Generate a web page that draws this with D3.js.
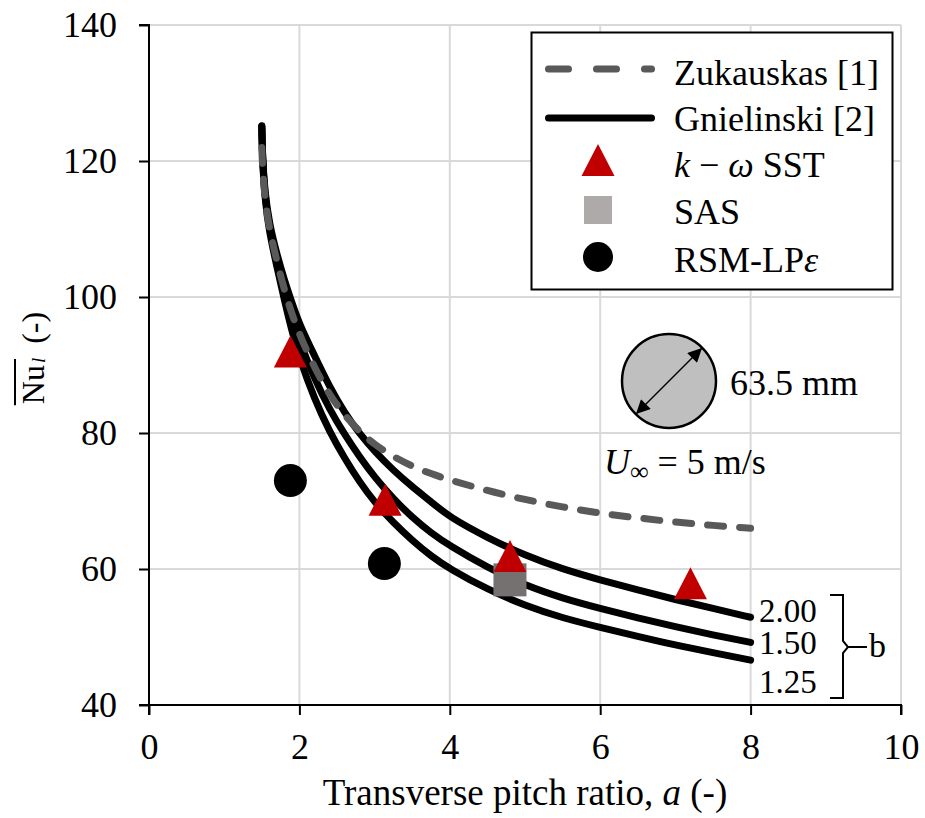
<!DOCTYPE html>
<html><head><meta charset="utf-8">
<script src="https://cdn.jsdelivr.net/npm/d3@7"></script>
<style>
html,body{margin:0;padding:0;background:#fff;}
svg{display:block;}
text{font-family:"Liberation Serif","Times New Roman",serif;fill:#000;}
</style></head>
<body>
<svg id="chart" width="925" height="818"></svg>
<script>
// ---------- data ----------
const xTicks = [0, 2, 4, 6, 8, 10];
const yTicks = [40, 60, 80, 100, 120, 140];
const curveX =        [1.5, 1.51, 1.54, 1.6, 1.7, 1.8, 1.9, 2.0, 2.2, 2.4, 2.6, 2.8, 3.0, 3.25, 3.5, 3.75, 4.0, 4.5, 5.0, 5.5, 6.0, 6.5, 7.0, 7.5, 8.0];
const zukauskas =     [122.0, 119.0, 114.5, 110.0, 105.3, 101.0, 97.5, 94.5, 89.6, 85.6, 82.6, 80.2, 78.3, 76.5, 75.1, 74.0, 73.1, 71.5, 70.2, 69.1, 68.2, 67.5, 66.9, 66.4, 66.0];
const gnielinski200 = [125.2, 120.5, 115.5, 110.8, 106.3, 102.5, 99.2, 96.0, 91.4, 86.8, 83.0, 79.9, 77.3, 74.5, 72.1, 69.9, 67.6, 64.6, 62.0, 60.0, 58.4, 56.9, 55.5, 54.2, 52.9];
const gnielinski150 = [125.1, 120.2, 115.0, 110.2, 105.5, 101.0, 97.0, 93.5, 88.0, 83.5, 79.8, 76.5, 73.5, 70.3, 67.6, 65.3, 63.4, 60.2, 57.6, 55.7, 54.2, 52.8, 51.5, 50.3, 49.2];
const gnielinski125 = [125.0, 120.0, 114.5, 109.5, 104.5, 99.5, 95.0, 91.0, 85.0, 80.2, 76.3, 72.8, 69.8, 66.8, 64.2, 61.9, 60.0, 57.0, 54.6, 52.8, 51.4, 50.1, 48.8, 47.7, 46.6];
const bLabels = ["2.00", "1.50", "1.25"];
const sstX = [1.88, 3.14, 4.8, 7.2];
const sstY = [92.0, 70.2, 61.9, 57.9];
const sasX = [4.8];
const sasY = [58.4];
const rsmX = [1.88, 3.13];
const rsmY = [73.0, 60.8];
const legendNames = ["Zukauskas [1]", "Gnielinski [2]", "k − ω SST", "SAS", "RSM-LPε"];

// ---------- layout ----------
const svg = d3.select("#chart");
const x = d3.scaleLinear().domain([0, 10]).range([149, 901]);
const y = d3.scaleLinear().domain([40, 140]).range([705, 25]);
const FS = 36;

// grid
svg.append("g").selectAll("line").data(xTicks.filter(d => d > 0)).join("line")
  .attr("x1", d => x(d)).attr("x2", d => x(d)).attr("y1", y(40)).attr("y2", y(140))
  .attr("stroke", "#d9d9d9").attr("stroke-width", 2);
svg.append("g").selectAll("line").data(yTicks.filter(d => d > 40)).join("line")
  .attr("x1", x(0)).attr("x2", x(10)).attr("y1", d => y(d)).attr("y2", d => y(d))
  .attr("stroke", "#d9d9d9").attr("stroke-width", 2);

// axes
const xAxis = d3.axisBottom(x).tickValues(xTicks).tickSize(10).tickPadding(18).tickFormat(d3.format("d"));
const yAxis = d3.axisLeft(y).tickValues(yTicks).tickSize(10).tickPadding(22).tickFormat(d3.format("d"));
const gx = svg.append("g").attr("transform", `translate(0,${y(40)})`).call(xAxis);
const gy = svg.append("g").attr("transform", `translate(${x(0)},0)`).call(yAxis);
[gx, gy].forEach(g => {
  g.select(".domain").attr("stroke", "#000").attr("stroke-width", 2);
  g.selectAll(".tick line").attr("stroke", "#000").attr("stroke-width", 2);
  g.selectAll(".tick text").attr("font-size", FS).attr("fill", "#000")
    .attr("font-family", '"Liberation Serif","Times New Roman",serif');
});
gx.select(".domain").attr("d", `M${x(0)},10V0H${x(10)}V10`);
gy.select(".domain").attr("d", `M-10,${y(140)}H0V${y(40)}H-10`);

// curves
const line = d3.line().x(d => x(d[0])).y(d => y(d[1])).curve(d3.curveBasis);
const gCurves = svg.append("g");
[gnielinski200, gnielinski150, gnielinski125].forEach(arr => {
  gCurves.append("path").attr("d", line(curveX.map((v, i) => [v, arr[i]])))
    .attr("fill", "none").attr("stroke", "#000").attr("stroke-width", 7)
    .attr("stroke-linecap", "round").attr("stroke-linejoin", "round");
});
gCurves.append("path").attr("d", line(curveX.map((v, i) => [v, zukauskas[i]])))
  .attr("fill", "none").attr("stroke", "#595959").attr("stroke-width", 7)
  .attr("stroke-dasharray", "16 16").attr("stroke-linecap", "round");

// markers
const tri = "M0,-16L16.5,16L-16.5,16Z";
svg.append("g").selectAll("circle").data(rsmX).join("circle")
  .attr("cx", d => x(d)).attr("cy", (d, i) => y(rsmY[i])).attr("r", 16.5).attr("fill", "#000");
svg.append("g").selectAll("rect").data(sasX).join("rect")
  .attr("x", d => x(d) - 16.5).attr("y", (d, i) => y(sasY[i]) - 16.5)
  .attr("width", 33).attr("height", 33).attr("fill", "#767171");
svg.append("g").selectAll("path").data(sstX).join("path")
  .attr("d", tri).attr("transform", (d, i) => `translate(${x(d)},${y(sstY[i])})`).attr("fill", "#c00000");

// b labels and bracket
const labelBaselines = [621.5, 653.5, 693];
svg.append("g").selectAll("text").data(bLabels).join("text")
  .attr("x", 759).attr("y", (d, i) => labelBaselines[i]).attr("font-size", 33).text(d => d);
svg.append("path").attr("d", "M830,595H843V641L848,647L843,653V698H830")
  .attr("fill", "none").attr("stroke", "#000").attr("stroke-width", 2);
svg.append("line").attr("x1", 848).attr("x2", 867).attr("y1", 647).attr("y2", 647)
  .attr("stroke", "#000").attr("stroke-width", 2);
svg.append("text").attr("x", 869).attr("y", 657).attr("font-size", 34).text("b");

// tube annotation
const defs = svg.append("defs");
defs.append("marker").attr("id", "ah").attr("viewBox", "0 0 10 10").attr("refX", 10).attr("refY", 5)
  .attr("markerWidth", 16).attr("markerHeight", 14).attr("markerUnits", "userSpaceOnUse")
  .attr("orient", "auto-start-reverse")
  .append("path").attr("d", "M0,0L10,5L0,10Z").attr("fill", "#000");
svg.append("circle").attr("cx", 669).attr("cy", 381).attr("r", 47).attr("fill", "#bfbfbf")
  .attr("stroke", "#000").attr("stroke-width", 2.5);
svg.append("line").attr("x1", 636).attr("y1", 414).attr("x2", 702).attr("y2", 348)
  .attr("stroke", "#000").attr("stroke-width", 1.5)
  .attr("marker-start", "url(#ah)").attr("marker-end", "url(#ah)");
svg.append("text").attr("x", 730).attr("y", 395).attr("font-size", FS).text("63.5 mm");
const ut = svg.append("text").attr("x", 604).attr("y", 474).attr("font-size", FS);
ut.append("tspan").attr("font-style", "italic").text("U");
ut.append("tspan").attr("font-size", 26).attr("dy", 6).text("∞");
ut.append("tspan").attr("dy", -6).text(" = 5 m/s");

// legend
const lg = svg.append("g");
lg.append("rect").attr("x", 531.5).attr("y", 32.5).attr("width", 361).attr("height", 257)
  .attr("fill", "#fff").attr("stroke", "#000").attr("stroke-width", 2);
const rowY = [69, 118, 160, 210, 257];
const textBase = [85, 131, 177, 224, 272];
lg.append("line").attr("x1", 548.5).attr("x2", 651.5).attr("y1", rowY[0]).attr("y2", rowY[0])
  .attr("stroke", "#595959").attr("stroke-width", 7).attr("stroke-dasharray", "20 28").attr("stroke-linecap", "round");
lg.append("line").attr("x1", 548.5).attr("x2", 651.5).attr("y1", rowY[1]).attr("y2", rowY[1])
  .attr("stroke", "#000").attr("stroke-width", 7).attr("stroke-linecap", "round");
lg.append("path").attr("d", tri).attr("transform", `translate(598,${rowY[2]})`).attr("fill", "#c00000");
lg.append("rect").attr("x", 598 - 14).attr("y", rowY[3] - 14).attr("width", 28).attr("height", 28).attr("fill", "#aeaaaa");
lg.append("circle").attr("cx", 598).attr("cy", rowY[4]).attr("r", 15).attr("fill", "#000");
legendNames.forEach((name, i) => {
  const t = lg.append("text").attr("x", 674).attr("y", textBase[i]).attr("font-size", FS);
  if (i === 2) {
    t.append("tspan").attr("font-style", "italic").text("k");
    t.append("tspan").text(" − ");
    t.append("tspan").attr("font-style", "italic").text("ω");
    t.append("tspan").text(" SST");
  } else if (i === 4) {
    t.append("tspan").text("RSM-LP");
    t.append("tspan").attr("font-style", "italic").text("ε");
  } else {
    t.text(name);
  }
});

// axis titles
const xt = svg.append("text").attr("x", (x(0) + x(10)) / 2).attr("y", 805)
  .attr("text-anchor", "middle").attr("font-size", 37);
xt.append("tspan").text("Transverse pitch ratio, ");
xt.append("tspan").attr("font-style", "italic").text("a");
xt.append("tspan").text(" (-)");

const yg = svg.append("g").attr("transform", "translate(44,358) rotate(-90)");
const yt = yg.append("text").attr("x", 0).attr("y", 0).attr("font-size", 32);
yt.append("tspan").text("Nu");
yt.append("tspan").attr("font-style", "italic").attr("font-size", 19).attr("dx", 2).attr("dy", 1).text("l");
yt.append("tspan").attr("dy", -1).attr("dx", 6).text(" (-)");
const bb = yt.node().getBBox();
yt.attr("x", -bb.width / 2);
const nuW = yt.node().getSubStringLength(0, 2);
yg.append("line").attr("x1", -bb.width / 2 - 1).attr("x2", -bb.width / 2 + nuW + 6)
  .attr("y1", -29).attr("y2", -29).attr("stroke", "#000").attr("stroke-width", 2);
</script>
</body></html>
